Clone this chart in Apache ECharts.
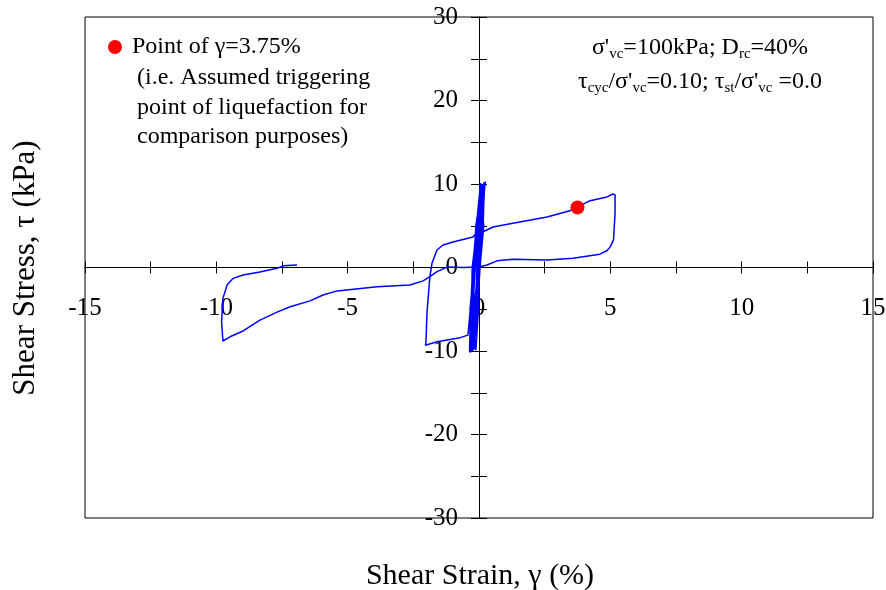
<!DOCTYPE html>
<html>
<head>
<meta charset="utf-8">
<script src="https://cdn.jsdelivr.net/npm/echarts@6/dist/echarts.min.js"></script>
<style>
  html, body { margin: 0; padding: 0; background: #fff; }
  #container { width: 886px; height: 590px; }
</style>
</head>
<body>
<div id="container"></div>
<script>
var serif = 'Liberation Serif, Times New Roman, serif';

// many small cycles at low strain (dense band around 0)
var denseCycles = [
  [0, 0], [0.10, 5], [0.16, 10.0], [0.02, 5], [-0.18, 0], [-0.28, -5], [-0.34, -10.0],
  [-0.20, -5], [-0.02, 0], [0.14, 5], [0.22, 10.2], [-0.04, 5], [-0.22, 0], [-0.30, -5], [-0.30, -9.8],
  [-0.06, -5], [0.04, 0], [0.18, 5], [0.06, 10.1], [-0.10, 5], [-0.24, 0], [-0.32, -5], [-0.36, -10.1],
  [-0.14, -5], [-0.08, 0], [0.06, 5], [0.24, 10.3], [0.08, 5], [-0.14, 0], [-0.26, -5], [-0.12, -9.9],
  [-0.02, -5], [0.02, 0], [0.12, 5], [0.12, 10.0], [-0.12, 5], [-0.20, 0], [-0.34, -5], [-0.26, -10.0],
  [-0.10, -5], [-0.04, 0], [0.16, 5], [0.20, 10.2], [0.00, 5], [-0.16, 0], [-0.22, -5], [-0.33, -10.2],
  [-0.18, -5], [0.00, 0], [0.08, 5], [0.18, 10.1], [-0.06, 5], [-0.26, 0], [-0.28, -5], [-0.20, -9.9],
  [-0.04, -5], [0.02, 0], [0.14, 5], [0.22, 10.2]
];

// excursion to about -2 %
var loopMinus2 = [
  [0.08, 7], [-0.05, 4.3], [-0.23, 3.65], [-0.99, 3.05], [-1.37, 2.7], [-1.60, 2.1], [-1.79, 0.5],
  [-1.87, -1.1], [-1.98, -5.4], [-2.02, -9.0], [-2.04, -9.3],
  [-1.60, -8.9], [-0.72, -8.4], [-0.42, -8.1], [-0.33, -5], [-0.20, 0], [-0.06, 3.5], [0.04, 4.1]
];

// excursion to about +5 %
var loopPlus5 = [
  [0.53, 4.85], [1.29, 5.3], [2.59, 6.05], [3.46, 6.8], [3.73, 7.2], [4.23, 8.0], [4.87, 8.45],
  [5.10, 8.8], [5.18, 8.7], [5.18, 6.5], [5.12, 3.3], [5.00, 2.5], [4.87, 2.0], [4.60, 1.6],
  [3.58, 1.1], [2.59, 0.9], [1.29, 1.0], [0.69, 0.8], [0.30, 0.3], [0.00, 0.05], [-0.60, 0.0],
  [-1.22, 0.05], [-1.60, -0.5], [-1.87, -1.1], [-2.13, -1.6], [-2.63, -2.1]
];

// excursion to about -10 %, test end
var loopMinus10 = [
  [-3.88, -2.3], [-5.40, -2.8], [-5.94, -3.3], [-6.43, -4.0], [-7.19, -4.7], [-7.69, -5.35],
  [-8.34, -6.3], [-8.98, -7.6], [-9.48, -8.3], [-9.75, -8.8], [-9.80, -6.5], [-9.75, -3.7],
  [-9.59, -2.1], [-9.36, -1.3], [-8.98, -0.9], [-8.34, -0.55], [-7.69, -0.1], [-7.46, 0.2], [-6.93, 0.3]
];

var triggerPoint = [[3.75, 7.2]];

var dom = document.getElementById('container');
var myChart = echarts.init(dom, null, { renderer: 'canvas' });

var path = denseCycles.concat(loopMinus2, loopPlus5, loopMinus10);

// grid box: 788 x 501 px, axes cross at its centre (0, 0)
var gridW = 788, gridH = 501;

// a pair of axes per direction so that the ticks cross the axis line
function xAxisDef(position, showLabel) {
  return {
    type: 'value', min: -15, max: 15, interval: 2.5, position: position,
    offset: -gridH / 2,
    axisLine: { onZero: false, lineStyle: { color: '#000', width: 1 } },
    axisTick: { show: true, inside: false, length: 6, lineStyle: { color: '#000', width: 1 } },
    axisLabel: {
      show: showLabel, margin: 28, color: '#000', fontFamily: serif, fontSize: 25,
      formatter: function (v) { return v % 5 === 0 ? String(v) : ''; }
    },
    splitLine: { show: false }
  };
}
function yAxisDef(position, showLabel) {
  return {
    type: 'value', min: -30, max: 30, interval: 5, position: position,
    offset: -gridW / 2,
    axisLine: { onZero: false, lineStyle: { color: '#000', width: 1 } },
    axisTick: { show: true, inside: false, length: 8, lineStyle: { color: '#000', width: 1 } },
    axisLabel: {
      show: showLabel, margin: 21, color: '#000', fontFamily: serif, fontSize: 25,
      formatter: function (v) { return v % 10 === 0 ? String(v) : ''; }
    },
    splitLine: { show: false }
  };
}

var option = {
  animation: false,
  backgroundColor: '#fff',
  grid: {
    left: 85, right: 13, top: 17, bottom: 72,
    show: true, borderColor: '#000', borderWidth: 1,
    outerBoundsMode: 'none'
  },
  legend: {
    left: 108, top: 35, padding: 0,
    itemWidth: 24, itemHeight: 14,
    data: [{ name: 'Point of \u03b3=3.75%', icon: 'circle' }],
    textStyle: { fontFamily: serif, fontSize: 24, color: '#000' }
  },
  xAxis: [xAxisDef('bottom', true), xAxisDef('top', false)],
  yAxis: [yAxisDef('left', true), yAxisDef('right', false)],
  series: [
    {
      name: 'response',
      type: 'line',
      data: path,
      showSymbol: false,
      symbol: 'none',
      lineStyle: { color: '#0000ff', width: 1.5 },
      z: 2
    },
    {
      name: 'Point of \u03b3=3.75%',
      type: 'scatter',
      data: triggerPoint,
      symbol: 'circle',
      symbolSize: 14,
      itemStyle: { color: '#ff0000', opacity: 1 },
      z: 3
    }
  ],
  graphic: [
    {
      type: 'text', x: 137, y: 63,
      style: {
        text: '(i.e. Assumed triggering\npoint of liquefaction for\ncomparison purposes)',
        font: '24px ' + serif, fill: '#000', lineHeight: 29.5,
        textAlign: 'left', textVerticalAlign: 'top'
      }
    },
    {
      type: 'text', x: 700, y: 48,
      style: {
        text: "{a|\u03c3'}{s|vc}{a|=100kPa; D}{s|rc}{a|=40%}",
        textAlign: 'center', textVerticalAlign: 'middle',
        rich: {
          a: { fontFamily: serif, fontSize: 24, color: '#000', lineHeight: 28 },
          s: { fontFamily: serif, fontSize: 15, color: '#000', lineHeight: 12, verticalAlign: 'bottom' }
        }
      }
    },
    {
      type: 'text', x: 700, y: 82,
      style: {
        text: "{a|\u03c4}{s|cyc}{a|/\u03c3'}{s|vc}{a|=0.10; \u03c4}{s|st}{a|/\u03c3'}{s|vc}{a| =0.0}",
        textAlign: 'center', textVerticalAlign: 'middle',
        rich: {
          a: { fontFamily: serif, fontSize: 24, color: '#000', lineHeight: 28 },
          s: { fontFamily: serif, fontSize: 15, color: '#000', lineHeight: 12, verticalAlign: 'bottom' }
        }
      }
    },
    {
      type: 'text', x: 480, y: 576,
      style: {
        text: 'Shear Strain, \u03b3 (%)', font: '30px ' + serif, fill: '#000',
        textAlign: 'center', textVerticalAlign: 'middle'
      }
    },
    {
      type: 'text', x: 26, y: 268, rotation: Math.PI / 2,
      style: {
        text: 'Shear Stress, \u03c4 (kPa)', font: '31px ' + serif, fill: '#000',
        textAlign: 'center', textVerticalAlign: 'middle'
      }
    }
  ]
};

myChart.setOption(option);
window.addEventListener('resize', myChart.resize);
</script>
</body>
</html>
